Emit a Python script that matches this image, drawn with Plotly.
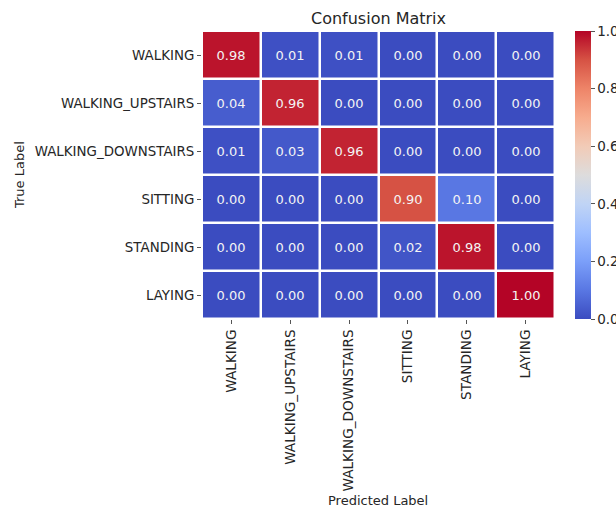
import plotly.graph_objects as go

labels = ["WALKING", "WALKING_UPSTAIRS", "WALKING_DOWNSTAIRS", "SITTING", "STANDING", "LAYING"]
matrix = [
    [0.98, 0.01, 0.01, 0.00, 0.00, 0.00],
    [0.04, 0.96, 0.00, 0.00, 0.00, 0.00],
    [0.01, 0.03, 0.96, 0.00, 0.00, 0.00],
    [0.00, 0.00, 0.00, 0.90, 0.10, 0.00],
    [0.00, 0.00, 0.00, 0.02, 0.98, 0.00],
    [0.00, 0.00, 0.00, 0.00, 0.00, 1.00],
]
cbar_ticks = [0.0, 0.2, 0.4, 0.6, 0.8, 1.0]

coolwarm_hex = ['#3b4cc0', '#5977e3', '#7b9ff9', '#9ebeff', '#c0d4f5', '#dddcdc',
                '#f2cbb7', '#f7ac8e', '#ee8468', '#d65244', '#b40426']
coolwarm = [[i / 10, c] for i, c in enumerate(coolwarm_hex)]

font = "DejaVu Sans"
ink = "#262626"
W, H = 616, 507
L, R, T, B = 202, 61, 31, 188
plot_w = W - L - R
plot_h = H - T - B

fig = go.Figure(go.Heatmap(
    z=matrix, x=labels, y=labels,
    colorscale=coolwarm, zmin=0, zmax=1,
    xgap=2.5, ygap=2.5,
    texttemplate="%{z:.2f}",
    textfont=dict(family=font, size=13, color="#f4f4f4"),
    colorbar=dict(
        x=(575 - L) / plot_w, xanchor="left", xref="paper", xpad=0,
        y=0.5, yanchor="middle", len=1.0, lenmode="fraction", ypad=0,
        thickness=16, outlinewidth=0,
        tickvals=cbar_ticks, ticktext=[f"{v:.1f}" for v in cbar_ticks],
        ticks="outside", ticklen=4, tickcolor="#555",
        tickfont=dict(family=font, size=13.5, color=ink),
    ),
))

fig.update_layout(
    width=W, height=H,
    margin=dict(l=L, r=R, t=T, b=B, autoexpand=False),
    paper_bgcolor="white", plot_bgcolor="white",
    title=dict(text="Confusion Matrix", x=(L + plot_w / 2) / W, xanchor="center",
               y=1 - 18 / H, yanchor="middle",
               font=dict(family=font, size=16, color=ink)),
    font=dict(family=font, color=ink),
    annotations=[
        dict(text="Predicted Label", xref="paper", yref="paper",
             x=(378 - L) / plot_w, y=-(500 - T - plot_h) / plot_h,
             xanchor="center", yanchor="middle", showarrow=False,
             font=dict(family=font, size=13, color=ink)),
        dict(text="True Label", xref="paper", yref="paper",
             x=-(L - 19) / plot_w, y=1 - (175 - T) / plot_h, textangle=-90,
             xanchor="center", yanchor="middle", showarrow=False,
             font=dict(family=font, size=13, color=ink)),
    ],
)
fig.update_xaxes(
    tickangle=-90, ticks="outside", ticklen=4, tickcolor="#555",
    tickfont=dict(family=font, size=13.6, color=ink),
    showgrid=False, zeroline=False,
)
fig.update_yaxes(
    autorange="reversed", ticks="outside", ticklen=4, tickcolor="#555",
    tickfont=dict(family=font, size=13.4, color=ink),
    showgrid=False, zeroline=False,
)

fig.write_html("out.html")
